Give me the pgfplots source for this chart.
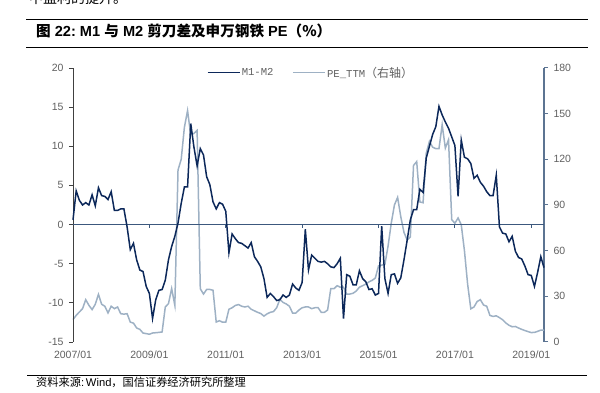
\documentclass[border=0pt]{standalone}
\usepackage{pgfplots}
\usepackage{pgfplotstable}
\pgfplotsset{compat=1.18}
\usepackage{fontspec}
\setmainfont{Liberation Sans}
\newfontfamily\cjk{Noto Sans CJK SC}
\newfontfamily\mono{Liberation Mono}
\definecolor{darkser}{RGB}{12,40,90}
\definecolor{lightser}{RGB}{158,177,196}
\definecolor{zeroln}{RGB}{60,88,125}
\definecolor{raxis}{RGB}{92,116,146}
\definecolor{laxis}{RGB}{64,64,64}
\definecolor{labgray}{RGB}{96,96,96}

\pgfplotstableread{
x y
0 0.6
1 4.3
2 3.1
3 2.5
4 2.8
5 2.5
6 3.8
7 2.4
8 4.7
9 3.7
10 3.6
11 3.2
12 4.2
13 1.8
14 1.8
15 2.0
16 2.0
17 -0.3
18 -3.2
19 -2.4
20 -4.5
21 -5.8
22 -6.0
23 -7.9
24 -8.8
25 -12.0
26 -9.6
27 -8.4
28 -8.3
29 -7.1
30 -4.5
31 -2.8
32 -1.5
33 0.2
34 2.7
35 4.8
36 4.8
37 12.9
38 9.9
39 7.5
40 9.7
41 8.9
42 6.1
43 5.1
44 2.9
45 2.0
46 2.8
47 2.6
48 1.7
49 -3.6
50 -1.2
51 -1.8
52 -2.3
53 -2.4
54 -2.7
55 -3.0
56 -2.3
57 -4.1
58 -4.7
59 -5.4
60 -6.9
61 -9.3
62 -8.8
63 -9.2
64 -9.7
65 -9.6
66 -9.0
67 -9.3
68 -9.0
69 -7.6
70 -8.1
71 -8.4
72 -7.4
73 -0.6
74 -5.8
75 -3.9
76 -4.3
77 -4.7
78 -4.8
79 -4.7
80 -5.0
81 -5.4
82 -5.5
83 -5.0
84 -4.3
85 -12.0
86 -6.4
87 -6.6
88 -7.7
89 -7.7
90 -5.9
91 -6.9
92 -7.3
93 -8.3
94 -8.2
95 -9.0
96 -8.8
97 -0.2
98 -6.9
99 -8.8
100 -6.4
101 -6.3
102 -7.5
103 -6.8
104 -4.5
105 -2.0
106 0.6
107 1.9
108 1.9
109 4.5
110 4.1
111 8.5
112 10.0
113 11.5
114 12.5
115 15.1
116 14.0
117 13.1
118 12.3
119 11.2
120 10.1
121 3.6
122 10.8
123 8.6
124 8.4
125 7.8
126 5.9
127 6.3
128 5.4
129 4.9
130 4.2
131 3.7
132 3.7
133 6.3
134 -0.3
135 -1.1
136 -1.2
137 -2.2
138 -1.5
139 -3.4
140 -4.2
141 -4.4
142 -5.3
143 -6.4
144 -6.5
145 -7.9
146 -6.1
147 -4.1
148 -5.5
}\mtab

\pgfplotstableread{
x y
0 14.7
1 17.5
2 19.7
3 21.9
4 27.8
5 24.1
6 21.3
7 24.8
8 31.3
9 24.8
10 23.5
11 19.1
12 23.5
13 21.9
14 23.0
15 18.6
16 18.3
17 18.6
18 13.1
19 12.4
20 9.2
21 8.3
22 5.9
23 5.5
24 5.1
25 5.9
26 6.1
27 6.3
28 6.6
29 23.0
30 25.2
31 35.1
32 24.1
33 113
34 120
35 141
36 152
37 136
38 137
39 139
40 35
41 31.5
42 34.5
43 34.5
44 34
45 13.1
46 14
47 13
48 13
49 21.5
50 22.5
51 24
52 24.6
53 23.5
54 23
55 23.5
56 21.5
57 20.5
58 19.5
59 18.7
60 17
61 18.5
62 19.5
63 20
64 22.5
65 28
66 26
67 25
68 23.5
69 19
70 19
71 21
72 22.5
73 23
74 23
75 21.9
76 22.5
77 22.6
78 19.5
79 19.5
80 21
81 35
82 35
83 37
84 36
85 36
86 31.5
87 31.5
88 32
89 33.5
90 36
91 37
92 38
93 39.5
94 40.5
95 42
96 50
97 50.5
98 51
99 63
100 78
101 90
102 95
103 82.3
104 72
105 67
106 69
107 116
108 118.5
109 92
110 91.5
111 124
112 131.8
113 128
114 127
115 127
116 142.7
117 127.4
118 132.9
119 80.4
120 78
121 81.5
122 77
123 60
124 38
125 21.8
126 23
127 26.6
128 27.8
129 24.3
130 23.5
131 17.5
132 16.8
133 17.2
134 16
135 14.6
136 12.5
137 11
138 10
139 10.2
140 9.2
141 8.3
142 7.5
143 6.8
144 6.2
145 6.3
146 7
147 7.8
148 7.8
}\petab

\begin{document}
\begin{tikzpicture}[x=1pt,y=1pt]
\useasboundingbox (0,0) rectangle (600,393);
% cut-off body text at the very top
\node[anchor=base west, inner sep=0pt, font=\cjk\fontsize{14}{14}\selectfont] at (29,389) {中盈利的提升。};
% title block
\draw[black, line width=0.9pt] (26,374) -- (588,374);
\draw[black, line width=0.9pt] (26,346) -- (588,346);
\node[anchor=base west, inner sep=0pt, font=\bfseries\fontsize{14.6}{15}\selectfont] at (36,356)
  {{\cjk 图} 22:\ M1 {\cjk 与} M2 {\cjk 剪刀差及申万钢铁} PE{\cjk （\%）}};
% source
\draw[black, line width=0.9pt] (27,18) -- (587,18);
\node[anchor=base west, inner sep=0pt, font=\fontsize{11.2}{12}\selectfont] at (36,6)
  {{\cjk 资料来源}:\,Wind{\cjk ，国信证券经济研究所整理}};

% right axis: PE-TTM
\begin{axis}[
  at={(73pt,51pt)}, anchor=south west,
  scale only axis, width=471pt, height=274pt,
  xmin=0, xmax=148, ymin=0, ymax=180,
  axis x line=none,
  axis y line*=right,
  y axis line style={raxis, line width=1.8pt},
  ytick={0,30,...,180},
  ytick style={raxis, line width=1pt},
  tick align=outside, major tick length=4pt,
  yticklabel style={font=\fontsize{10.5}{11}\selectfont, text=labgray, anchor=west, xshift=2pt},
  /pgf/number format/assume math mode=true,
  clip=false,
]
\addplot[lightser, line width=1.5pt] table[x=x,y=y] {\petab};
\end{axis}

% left axis: M1-M2
\begin{axis}[
  at={(73pt,51pt)}, anchor=south west,
  scale only axis, width=471pt, height=274pt,
  xmin=0, xmax=148, ymin=-15, ymax=20,
  axis y line*=left, axis x line*=bottom,
  x axis line style={draw=none},
  y axis line style={laxis, line width=1pt},
  ytick={-15,-10,...,20},
  ytick style={laxis, line width=0.8pt},
  xtick={0,24,48,72,96,120,144},
  xticklabels={2007/01,2009/01,2011/01,2013/01,2015/01,2017/01,2019/01},
  xtick style={draw=none},
  tick align=outside, major tick length=4pt,
  yticklabel style={font=\fontsize{10.5}{11}\selectfont, text=labgray, anchor=east, xshift=-2pt},
  xticklabel style={font=\fontsize{10.5}{11}\selectfont, text=labgray, yshift=-1pt},
  /pgf/number format/assume math mode=true,
  clip=false,
  legend columns=2,
  legend image code/.code={\draw[#1] (0pt,0pt) -- (32pt,0pt);},
  legend style={at={(0.284,0.983)}, anchor=west, draw=none, fill=none,
    inner sep=0pt, outer sep=0pt,
    nodes={inner sep=1.5pt, anchor=west, text=labgray},
    /tikz/every even column/.append style={column sep=17pt}},
]
\draw[zeroln, line width=1.3pt] (axis cs:0,0) -- (axis cs:148,0);
\pgfplotsinvokeforeach{24,48,72,96,120,144}{
  \draw[zeroln, line width=0.8pt] (axis cs:#1,0) -- ++(0pt,-3.5pt);
}
\addplot[darkser, line width=1.5pt] table[x=x,y=y] {\mtab};
\addlegendentry{{\mono\fontsize{10.6}{11}\selectfont M1-M2}}
\addlegendimage{lightser, line width=1.5pt}
\addlegendentry{{\mono\fontsize{10.6}{11}\selectfont PE\_TTM}{\cjk\fontsize{12}{12}\selectfont （右轴）}}
\end{axis}
\end{tikzpicture}
\end{document}
